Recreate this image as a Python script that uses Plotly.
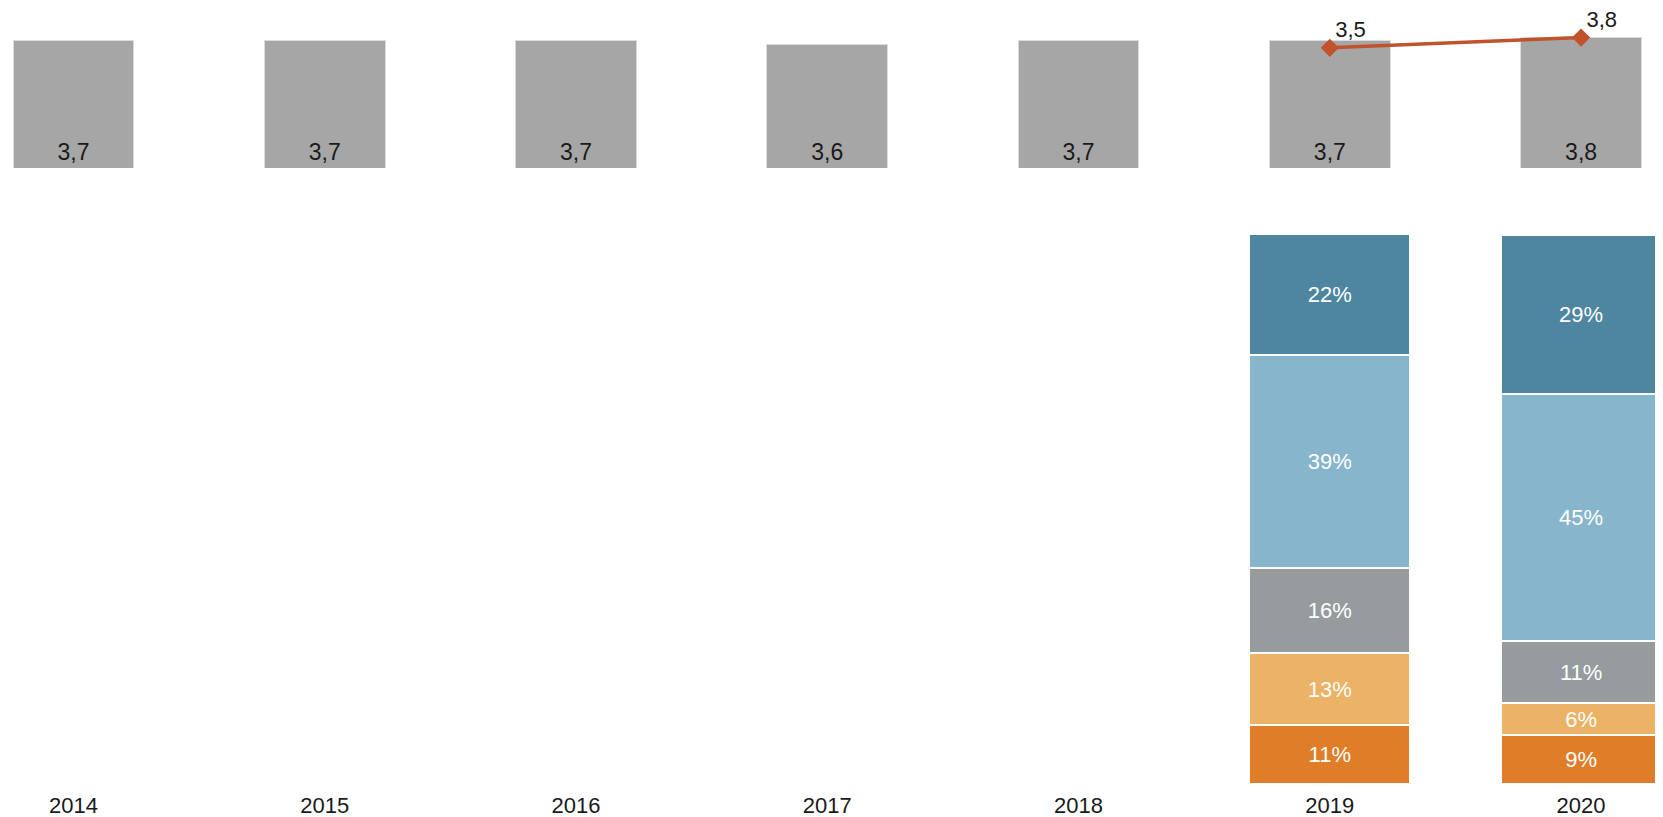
import plotly.graph_objects as go
from plotly.subplots import make_subplots

# =============================================================================
# DATA
# =============================================================================

years = ['2014', '2015', '2016', '2017', '2018', '2019', '2020']
avg_score = [3.7, 3.7, 3.7, 3.6, 3.7, 3.7, 3.8]

line_years = ['2019', '2020']
line_score = [3.5, 3.8]

share_years = ['2019', '2020']
share_top = [22.0, 29.0]
share_upper = [38.7, 45.0]
share_mid = [15.6, 11.3]
share_lower = [13.1, 5.8]
share_bottom = [10.7, 8.9]

# =============================================================================
# FIGURE
# =============================================================================

FONT = 'Liberation Sans, Arial, sans-serif'

fig = make_subplots(rows=2, cols=1, shared_xaxes=True, vertical_spacing=0.0)

# top panel: average score bars + line
fig.add_trace(go.Bar(
    x=years, y=avg_score,
    width=0.48,
    marker=dict(color='#a6a6a6', line=dict(color='#dcdcdc', width=1)),
    texttemplate='%{y:.1f}',
    textposition='inside',
    insidetextanchor='start',
    textangle=0,
    constraintext='none',
    insidetextfont=dict(color='#1a1a1a', size=23, family=FONT),
    showlegend=False
), row=1, col=1)

fig.add_trace(go.Scatter(
    x=line_years, y=line_score,
    mode='lines+markers',
    line=dict(color='#c0532b', width=3.5),
    marker=dict(symbol='diamond', size=14, color='#c0532b'),
    showlegend=False
), row=1, col=1)

# labels for the line; invisible small markers set the text offset
# (a bit tighter than the line markers so the top label is not clipped)
fig.add_trace(go.Scatter(
    x=line_years, y=line_score,
    mode='markers+text',
    marker=dict(size=7, opacity=0),
    texttemplate='%{y:.1f}',
    textposition='top right',
    textfont=dict(color='#1a1a1a', size=22, family=FONT),
    cliponaxis=False,
    hoverinfo='skip',
    showlegend=False
), row=1, col=1)

# bottom panel: stacked share bars (bottom to top)
segments = [
    (share_bottom, '#e07d28'),
    (share_lower, '#ecb266'),
    (share_mid, '#969c9d'),
    (share_upper, '#87b5cb'),
    (share_top, '#4e86a0'),
]
for values, color in segments:
    fig.add_trace(go.Bar(
        x=share_years, y=values,
        width=0.64,
        marker=dict(color=color, line=dict(color='white', width=2)),
        texttemplate='%{y:.0f}%',
        textposition='inside',
        insidetextanchor='middle',
        textangle=0,
        constraintext='none',
        insidetextfont=dict(color='white', size=22, family=FONT),
        showlegend=False
    ), row=2, col=1)

# page has an 8px body margin, so the figure is a bit smaller than the window
fig.update_layout(
    barmode='stack',
    width=1655, height=809,
    margin=dict(l=0, r=0, t=0, b=33),
    plot_bgcolor='white',
    paper_bgcolor='white',
    separators=', ',
    font=dict(family=FONT, size=22, color='#1a1a1a'),
    showlegend=False,
)

fig.update_xaxes(
    type='category',
    categoryorder='array', categoryarray=years,
    range=[-0.2607, 6.326],
    showgrid=False, zeroline=False, showline=False, ticks='',
)
fig.update_xaxes(showticklabels=False, row=1, col=1)
fig.update_xaxes(showticklabels=True, tickfont=dict(size=22, color='#1a1a1a'),
                 ticklabelstandoff=6, row=2, col=1)

fig.update_yaxes(visible=False, showgrid=False, zeroline=False)
fig.update_yaxes(range=[0, 4.66], domain=[0.7938, 1.0], row=1, col=1)
fig.update_yaxes(range=[0, 100.3], domain=[0.0, 0.7101], row=2, col=1)

fig.write_html("out.html")
